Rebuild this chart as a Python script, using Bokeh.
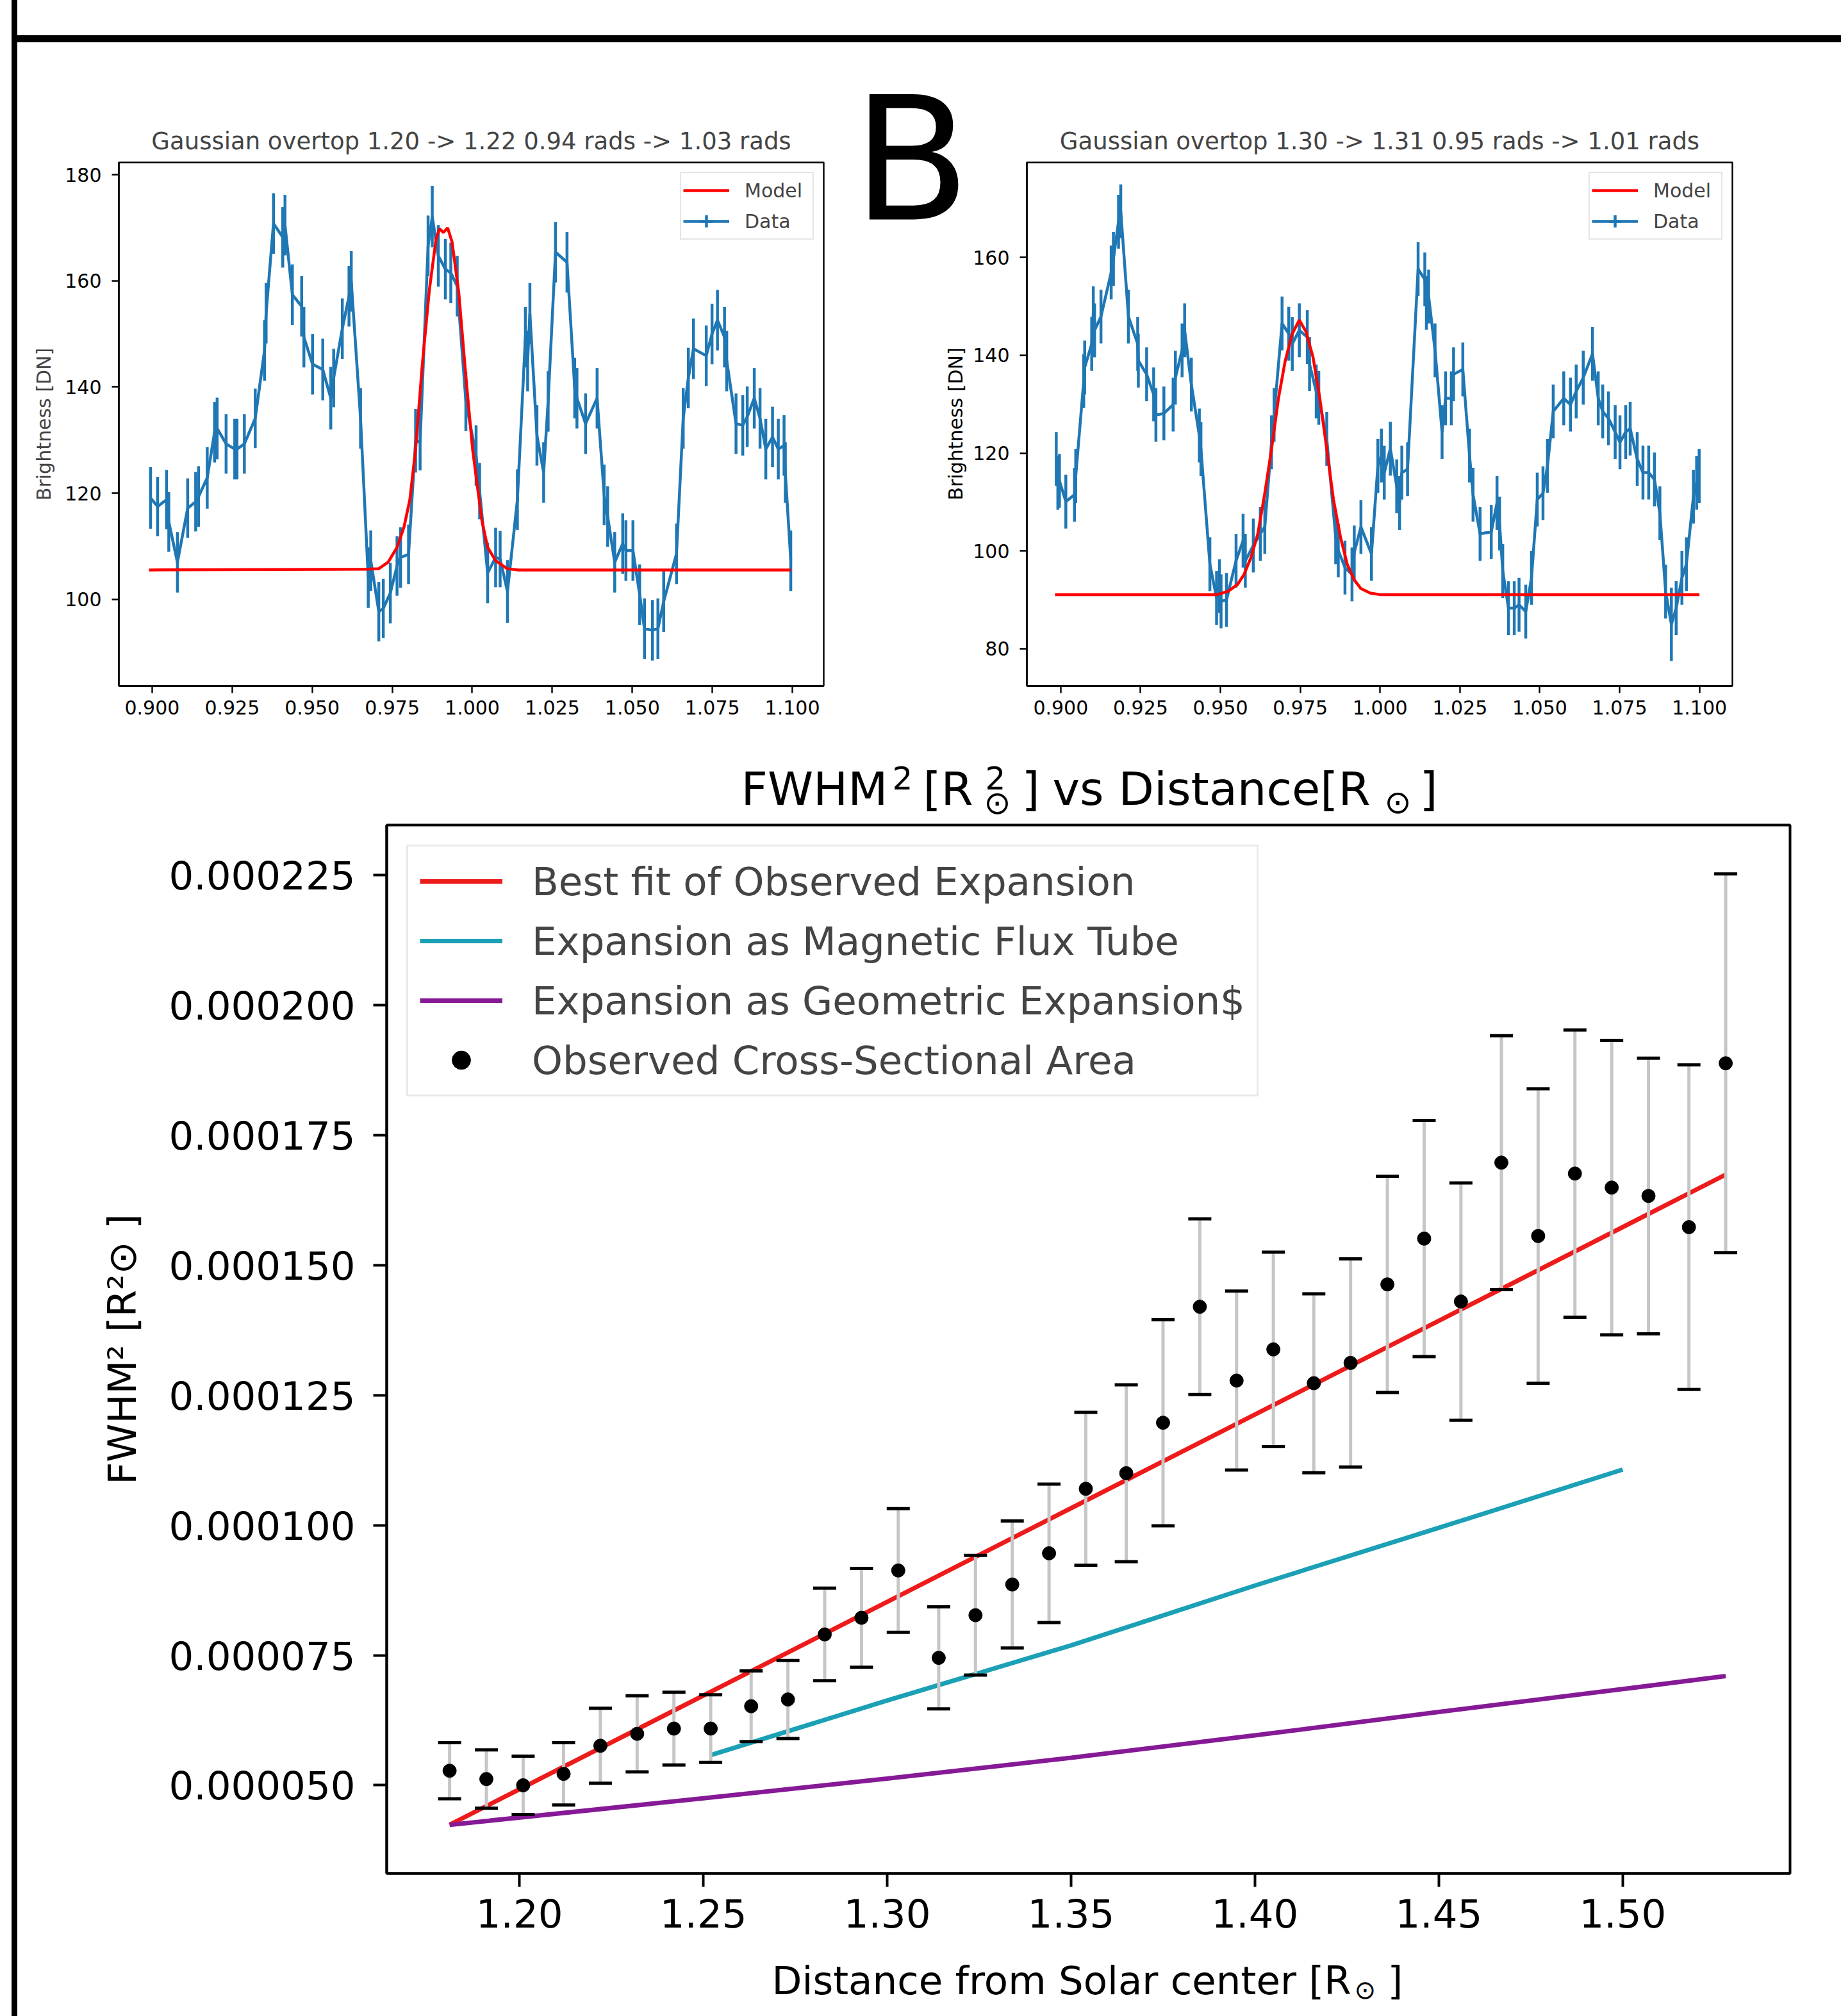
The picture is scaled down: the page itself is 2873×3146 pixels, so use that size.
import math
from bokeh.plotting import figure
from bokeh.models import (Range1d, FixedTicker, NumeralTickFormatter, Legend, LegendItem, Spacer)
from bokeh.layouts import row, column
from bokeh.embed import file_html
from bokeh.resources import INLINE
from bokeh.core.properties import value

FONT = "DejaVu Sans"
NAN = float("nan")

# ---------------------------------------------------------------- data
left_title = "Gaussian overtop 1.20 -> 1.22 0.94 rads -> 1.03 rads"
right_title = "Gaussian overtop 1.30 -> 1.31 0.95 rads -> 1.01 rads"
top_x_ticks = [0.900, 0.925, 0.950, 0.975, 1.000, 1.025, 1.050, 1.075, 1.100]
left_y_ticks = [100, 120, 140, 160, 180]
right_y_ticks = [80, 100, 120, 140, 160]

left_x = [0.8995, 0.9017, 0.9045, 0.9052, 0.9079, 0.9111, 0.9136, 0.9145, 0.9172, 0.9195,
          0.9203, 0.9231, 0.9258, 0.9265, 0.9288, 0.9322, 0.9351, 0.9356, 0.9379, 0.9408,
          0.9415, 0.9438, 0.9467, 0.9474, 0.9501, 0.9533, 0.9558, 0.9567, 0.9594, 0.9615,
          0.9622, 0.9651, 0.9675, 0.9683, 0.9708, 0.9722, 0.9744, 0.9765, 0.9776, 0.9801,
          0.9823, 0.9837, 0.9862, 0.9875, 0.9894, 0.9916, 0.9933, 0.9953, 0.9980, 1.0012,
          1.0023, 1.0048, 1.0073, 1.0087, 1.0110, 1.0141, 1.0166, 1.0173, 1.0180, 1.0202,
          1.0223, 1.0237, 1.0260, 1.0296, 1.0320, 1.0327, 1.0354, 1.0390, 1.0412, 1.0423,
          1.0445, 1.0470, 1.0480, 1.0502, 1.0523, 1.0538, 1.0563, 1.0580, 1.0598, 1.0638,
          1.0659, 1.0675, 1.0691, 1.0731, 1.0749, 1.0766, 1.0788, 1.0795, 1.0824, 1.0845,
          1.0859, 1.0881, 1.0899, 1.0917, 1.0938, 1.0956, 1.0974, 1.0978, 1.0995]
left_y = [119.1, 117.5, 118.8, 114.6, 107.0, 117.2, 118.4, 119.4, 122.9, 131.5,
          132.2, 129.3, 128.3, 128.3, 129.3, 134.1, 146.9, 153.9, 170.8, 168.2,
          170.5, 157.4, 155.2, 149.4, 144.3, 143.3, 137.9, 141.7, 151.0, 157.1,
          159.9, 134.1, 104.1, 107.3, 97.7, 98.3, 101.2, 106.3, 107.9, 108.5,
          129.9, 129.6, 166.6, 172.1, 164.7, 162.2, 161.5, 159.0, 137.3, 127.1,
          120.4, 105.0, 107.9, 107.6, 101.5, 118.8, 149.4, 144.9, 153.9, 130.9,
          123.9, 137.3, 165.4, 163.5, 139.8, 137.9, 133.1, 137.9, 119.7, 115.6,
          107.0, 110.5, 109.2, 109.2, 100.9, 94.5, 94.2, 94.5, 99.6, 108.6,
          134.1, 141.7, 147.2, 145.9, 150.0, 152.6, 149.4, 144.9, 133.1, 132.8,
          134.4, 137.9, 134.1, 128.3, 130.6, 128.3, 129.0, 123.9, 107.3]
left_err = [5.8, 5.6, 5.6, 5.6, 5.7, 5.6, 5.6, 5.7, 5.8, 5.7,
            5.8, 5.6, 5.7, 5.7, 5.6, 5.6, 5.7, 5.7, 5.7, 5.7,
            5.7, 5.7, 5.7, 5.7, 5.7, 5.8, 5.9, 5.5, 5.7, 5.7,
            5.7, 5.7, 5.7, 5.7, 5.6, 5.6, 5.7, 5.6, 5.7, 5.6,
            6.0, 5.3, 5.7, 5.8, 5.8, 5.7, 5.7, 5.7, 5.6, 5.7,
            5.3, 5.7, 5.6, 5.3, 5.9, 5.7, 5.7, 5.7, 5.7, 5.7,
            5.7, 5.7, 5.7, 5.7, 5.7, 5.7, 5.7, 5.7, 5.7, 5.7,
            5.7, 5.7, 5.7, 5.7, 5.7, 5.7, 5.7, 5.7, 5.7, 5.7,
            5.7, 5.7, 5.7, 5.7, 5.7, 5.7, 5.7, 5.7, 5.7, 5.7,
            5.7, 5.7, 5.7, 5.7, 5.7, 5.7, 5.7, 5.7, 5.7]
left_model_x = [0.8990, 0.9672, 0.9708, 0.9737, 0.9765, 0.9787, 0.9805, 0.9823, 0.9844,
                0.9866, 0.9887, 0.9898, 0.9910, 0.9923, 0.9937, 0.9958, 0.9980, 1.0001,
                1.0016, 1.0030, 1.0048, 1.0073, 1.0109, 1.0144, 1.0995]
left_model_y = [105.55, 105.7, 105.8, 107.0, 109.8, 113.7, 118.8, 128.3, 144.3,
                158.3, 167.9, 169.8, 169.1, 170.0, 167.3, 157.7, 142.0, 128.3,
                121.3, 114.9, 109.8, 107.3, 105.8, 105.55, 105.55]

right_x = [0.8986, 0.8991, 0.8996, 0.9016, 0.9043, 0.9047, 0.9072, 0.9075, 0.9097, 0.9102,
           0.9106, 0.9126, 0.9158, 0.9165, 0.9181, 0.9188, 0.9212, 0.9241, 0.9243, 0.9269,
           0.9291, 0.9298, 0.9323, 0.9352, 0.9359, 0.9380, 0.9388, 0.9409, 0.9434, 0.9439,
           0.9467, 0.9488, 0.9497, 0.9502, 0.9519, 0.9549, 0.9571, 0.9578, 0.9603, 0.9625,
           0.9639, 0.9660, 0.9668, 0.9693, 0.9714, 0.9725, 0.9747, 0.9772, 0.9779, 0.9800,
           0.9808, 0.9833, 0.9861, 0.9869, 0.9890, 0.9912, 0.9919, 0.9940, 0.9973, 0.9993,
           1.0004, 1.0013, 1.0032, 1.0052, 1.0061, 1.0068, 1.0086, 1.0119, 1.0140, 1.0145,
           1.0152, 1.0172, 1.0194, 1.0205, 1.0223, 1.0230, 1.0259, 1.0280, 1.0291, 1.0313,
           1.0348, 1.0366, 1.0374, 1.0384, 1.0402, 1.0420, 1.0435, 1.0456, 1.0474, 1.0492,
           1.0510, 1.0524, 1.0542, 1.0575, 1.0596, 1.0614, 1.0636, 1.0665, 1.0683, 1.0697,
           1.0715, 1.0736, 1.0751, 1.0769, 1.0783, 1.0805, 1.0823, 1.0841, 1.0859, 1.0876,
           1.0894, 1.0912, 1.0927, 1.0945, 1.0959, 1.0981, 1.0991, 1.0999]
right_y = [118.8, 113.9, 114.3, 110.1, 111.5, 115.3, 134.7, 137.5, 142.3, 148.6,
           145.1, 147.9, 156.9, 159.7, 167.3, 169.4, 147.9, 142.3, 138.9, 136.1,
           132.0, 127.8, 128.1, 129.9, 135.4, 141.0, 145.1, 134.0, 123.6, 120.8,
           97.3, 90.4, 92.8, 89.7, 90.0, 98.0, 102.1, 98.0, 101.1, 103.5,
           104.9, 122.2, 127.8, 146.5, 144.4, 142.3, 145.1, 143.7, 138.2, 132.6,
           131.3, 122.9, 102.8, 100.1, 96.6, 95.2, 99.7, 104.9, 99.4, 117.4,
           119.5, 116.0, 120.9, 113.2, 109.8, 116.0, 116.7, 157.6, 155.5, 150.7,
           152.0, 141.0, 124.3, 131.2, 131.2, 136.1, 137.1, 119.5, 111.5, 103.5,
           103.9, 109.8, 105.6, 95.9, 88.3, 88.3, 89.0, 87.6, 94.5, 110.5,
           111.8, 117.4, 128.5, 131.2, 129.9, 132.6, 135.4, 140.3, 131.2, 128.5,
           127.1, 124.3, 122.2, 124.3, 125.0, 118.8, 116.0, 116.0, 114.6, 107.7,
           91.7, 85.0, 88.3, 94.5, 97.3, 111.1, 113.9, 115.3]
right_err = [5.5] * 111 + [7.5] + [5.5] * 6
right_model_x = [0.8982, 0.9488, 0.9524, 0.9553, 0.9574, 0.9596, 0.9617, 0.9639, 0.9660,
                 0.9682, 0.9703, 0.9725, 0.9747, 0.9768, 0.9790, 0.9811, 0.9833, 0.9854,
                 0.9876, 0.9897, 0.9919, 0.9940, 0.9969, 1.0003, 1.1000]
right_model_y = [91.05, 91.05, 91.75, 93.1, 95.2, 98.7, 103.5, 111.8, 120.8,
                 131.3, 138.9, 144.4, 147.2, 144.8, 139.6, 131.3, 120.8, 110.5,
                 102.8, 97.3, 94.1, 92.3, 91.4, 91.05, 91.05]

# bottom panel
dist = [1.181, 1.191, 1.201, 1.212, 1.222, 1.232, 1.242, 1.252, 1.263, 1.273,
        1.283, 1.293, 1.303, 1.314, 1.324, 1.334, 1.344, 1.354, 1.365, 1.375,
        1.385, 1.395, 1.405, 1.416, 1.426, 1.436, 1.446, 1.456, 1.467, 1.477,
        1.487, 1.497, 1.507, 1.518, 1.528]
fwhm2 = [5.28e-5, 5.12e-5, 5.00e-5, 5.22e-5, 5.76e-5, 5.99e-5, 6.09e-5, 6.09e-5, 6.52e-5, 6.65e-5,
         7.90e-5, 8.22e-5, 9.13e-5, 7.45e-5, 8.27e-5, 8.86e-5, 9.46e-5, 10.70e-5, 11.00e-5, 11.97e-5,
         14.20e-5, 12.78e-5, 13.38e-5, 12.73e-5, 13.12e-5, 14.63e-5, 15.51e-5, 14.30e-5, 16.97e-5, 15.56e-5,
         16.76e-5, 16.49e-5, 16.33e-5, 15.73e-5, 18.88e-5]
fwhm2_err = [0.54e-5, 0.56e-5, 0.56e-5, 0.60e-5, 0.72e-5, 0.73e-5, 0.70e-5, 0.65e-5, 0.68e-5, 0.75e-5,
             0.89e-5, 0.95e-5, 1.19e-5, 0.98e-5, 1.15e-5, 1.22e-5, 1.33e-5, 1.47e-5, 1.70e-5, 1.98e-5,
             1.69e-5, 1.72e-5, 1.87e-5, 1.72e-5, 2.00e-5, 2.08e-5, 2.27e-5, 2.28e-5, 2.44e-5, 2.83e-5,
             2.76e-5, 2.83e-5, 2.65e-5, 3.12e-5, 3.64e-5]
fit_x = [1.181, 1.528]
fit_y = [4.24e-5, 16.74e-5]
flux_x = [1.252, 1.30, 1.35, 1.40, 1.45, 1.50]
flux_y = [5.58e-5, 6.63e-5, 7.69e-5, 8.84e-5, 9.95e-5, 11.07e-5]
geom_x = [1.181, 1.25, 1.30, 1.35, 1.40, 1.45, 1.50, 1.528]
geom_y = [4.24e-5, 4.75e-5, 5.13e-5, 5.53e-5, 5.96e-5, 6.41e-5, 6.85e-5, 7.10e-5]
bottom_x_ticks = [1.20, 1.25, 1.30, 1.35, 1.40, 1.45, 1.50]
bottom_y_ticks = [5.0e-5, 7.5e-5, 1.0e-4, 1.25e-4, 1.5e-4, 1.75e-4, 2.0e-4, 2.25e-4]
legend_labels = ["Best fit of Observed Expansion", "Expansion as Magnetic Flux Tube",
                 "Expansion as Geometric Expansion$", "Observed Cross-Sectional Area"]
bottom_ylabel = "FWHM\u00b2 [R\u00b2\u2299 ]"

BLUE = "#1f77b4"
RED = "#ff0000"
K_BASE = 0.34   # measured drop of an 'alphabetic' text anchor, in em


def base_fig(fw, fh, bl, br, bt, bb, xr, yr, lw):
    p = figure(frame_width=fw, frame_height=fh, x_range=Range1d(*xr), y_range=Range1d(*yr),
               min_border_left=bl, min_border_right=br, min_border_top=bt, min_border_bottom=bb,
               output_backend="svg", toolbar_location=None)
    p.xgrid.visible = False
    p.ygrid.visible = False
    p.outline_line_color = "black"
    p.outline_line_width = lw
    p.outline_line_alpha = 1.0
    p.background_fill_color = "white"
    p.border_fill_color = "white"
    return p


def style_axes(p, lw, tick, fsize, standoff_x, standoff_y):
    for ax in p.axis:
        ax.axis_line_color = "black"
        ax.axis_line_width = lw
        ax.major_tick_line_color = "black"
        ax.major_tick_line_width = lw
        ax.major_tick_out = tick
        ax.major_tick_in = 0
        ax.minor_tick_line_color = None
        ax.major_label_text_font = FONT
        ax.major_label_text_font_size = fsize
        ax.major_label_text_color = "black"
    p.xaxis.major_label_standoff = standoff_x
    p.yaxis.major_label_standoff = standoff_y


def strip(x0, x1, y0, y1, bl=0, br=0):
    """A text-only canvas whose data units are page pixels (y grows downward).
    x0..x1 is the drawable (frame) span; bl/br are blank borders around it."""
    f = figure(width=(x1 - x0) + bl + br, height=y1 - y0,
               x_range=Range1d(x0, x1), y_range=Range1d(y1, y0),
               x_axis_location=None, y_axis_location=None,
               min_border_left=bl, min_border_right=br, min_border_top=0, min_border_bottom=0,
               output_backend="svg", toolbar_location=None)
    f.xgrid.visible = False
    f.ygrid.visible = False
    f.outline_line_color = None
    f.background_fill_color = "white"
    f.border_fill_color = "white"
    return f


def txt(f, X, Y, s, size, angle=0.0, align="left", baseline="alphabetic", comp=True):
    # Y is the wanted baseline; compensate the measured drop of the text anchor
    y = Y - K_BASE * size if comp else Y
    f.text(x=[X], y=[y], text=[s], text_font=value(FONT), text_font_size=value(f"{size}px"),
           text_align=align, text_baseline=baseline, angle=angle, text_color="black")


def top_panel(xs, ys, es, mx, my, title, yticks, xr, yr, bl, br, fw, ylabel):
    p = base_fig(fw, 817, bl, br, 187, 80, xr, yr, 2.4)
    style_axes(p, 2.4, 11, "30px", 11, 16)
    p.xaxis.ticker = FixedTicker(ticks=top_x_ticks)
    p.xaxis.formatter = NumeralTickFormatter(format="0.000")
    p.yaxis.ticker = FixedTicker(ticks=yticks)
    p.yaxis.formatter = NumeralTickFormatter(format="0")
    if ylabel:
        p.yaxis.axis_label = "Brightness [DN]"
        p.yaxis.axis_label_text_font = FONT
        p.yaxis.axis_label_text_font_size = "30px"
        p.yaxis.axis_label_text_font_style = "normal"
        p.yaxis.axis_label_standoff = 12
    p.title.text = title
    p.title.align = "center"
    p.title.text_font = FONT
    p.title.text_font_size = "37px"
    p.title.text_font_style = "normal"
    p.title.standoff = 24
    lo = [y - e for y, e in zip(ys, es)]
    hi = [y + e for y, e in zip(ys, es)]
    p.segment(x0=xs, y0=lo, x1=xs, y1=hi, line_color=BLUE, line_width=4.5)
    r_data = p.line(xs, ys, line_color=BLUE, line_width=4.5)
    r_model = p.line(mx, my, line_color=RED, line_width=4.5)
    r_bar = p.scatter(x=[NAN], y=[NAN], marker="cross", size=10, line_color=BLUE, line_width=4.5)
    leg = Legend(items=[LegendItem(label="Model", renderers=[r_model]),
                        LegendItem(label="Data", renderers=[r_data, r_bar])],
                 location="top_right", margin=15, padding=3, spacing=0,
                 glyph_width=72, glyph_height=48, label_height=48, label_width=103,
                 label_standoff=24, label_text_font=FONT, label_text_font_size="30px",
                 border_line_color="#cccccc", border_line_width=2,
                 background_fill_alpha=0.85)
    p.add_layout(leg)
    return p


# page x: 27..1325 p1 | 1325..1515 middle strip | 1515..2873 p2 ; page y 66..1150
p1 = top_panel(left_x, left_y, left_err, left_model_x, left_model_y, left_title,
               left_y_ticks, (0.8896, 1.1098), (83.7, 182.3), 158, 40, 1100, True)
p2 = top_panel(right_x, right_y, right_err, right_model_x, right_model_y, right_title,
               right_y_ticks, (0.8894, 1.1103), (72.4, 179.4), 86, 171, 1101, False)
mid = strip(1325, 1515, 66, 1150)
txt(mid, 1330, 340, "B", 268)
txt(mid, 1491, 661, "Brightness [DN]", 30, angle=math.pi / 2, align="center",
    baseline="middle", comp=False)

# ---------------------------------------------------------------- bottom panel
# page y: 1284..3050, frame x 603..2793, frame y 1287..2923
p3 = base_fig(2190, 1636, 576, 80, 3, 127, (1.1639, 1.5455), (3.306e-5, 2.346e-4), 4)
style_axes(p3, 4, 21, "61px", 18, 28)
p3.xaxis.ticker = FixedTicker(ticks=bottom_x_ticks)
p3.xaxis.formatter = NumeralTickFormatter(format="0.00")
p3.yaxis.ticker = FixedTicker(ticks=bottom_y_ticks)
p3.yaxis.formatter = NumeralTickFormatter(format="0.000000")
p3.yaxis.axis_label = bottom_ylabel
p3.yaxis.axis_label_text_font = FONT
p3.yaxis.axis_label_text_font_size = "61px"
p3.yaxis.axis_label_text_font_style = "normal"
p3.yaxis.axis_label_text_color = "black"
p3.yaxis.axis_label_standoff = 34

r_fit = p3.line(fit_x, fit_y, line_color="#ee1b1b", line_width=7)
r_flux = p3.line(flux_x, flux_y, line_color="#1ba0b5", line_width=7)
r_geom = p3.line(geom_x, geom_y, line_color="#861a96", line_width=7)
lo3 = [y - e for y, e in zip(fwhm2, fwhm2_err)]
hi3 = [y + e for y, e in zip(fwhm2, fwhm2_err)]
p3.segment(x0=dist, y0=lo3, x1=dist, y1=hi3, line_color="#c6c6c6", line_width=5)
p3.scatter(dist, lo3, marker="dash", size=36, line_color="black", line_width=5)
p3.scatter(dist, hi3, marker="dash", size=36, line_color="black", line_width=5)
r_pts = p3.scatter(dist, fwhm2, marker="circle", size=21, fill_color="black", line_color="black")
leg3 = Legend(items=[LegendItem(label=legend_labels[0], renderers=[r_fit]),
                     LegendItem(label=legend_labels[1], renderers=[r_flux]),
                     LegendItem(label=legend_labels[2], renderers=[r_geom]),
                     LegendItem(label=legend_labels[3], renderers=[r_pts])],
              location="top_left", margin=31, padding=18, spacing=21,
              glyph_width=129, glyph_height=72, label_height=72, label_standoff=46,
              label_text_font=FONT, label_text_font_size="61px",
              border_line_color="#d4d4d4", border_line_width=3, background_fill_alpha=0.85)
p3.add_layout(leg3)

# title strip (page y 1150..1284): FWHM^2 [R_sun^2] vs Distance[R_sun]
tstrip = strip(603, 2793, 1150, 1284, bl=576, br=80)
txt(tstrip, 1156, 1255, "FWHM", 72)
txt(tstrip, 1392, 1230, "2", 50)
txt(tstrip, 1440, 1255, "[R", 72)
txt(tstrip, 1537, 1230, "2", 50)
txt(tstrip, 1535, 1269, "\u2299", 50)
txt(tstrip, 1594, 1255, "]", 72)
txt(tstrip, 1642, 1255, "vs Distance[R", 72)
txt(tstrip, 2160, 1268, "\u2299", 50)
txt(tstrip, 2215, 1255, "]", 72)

# x-label strip (page y 3050..3146)
xstrip = strip(603, 2793, 3050, 3146, bl=576, br=80)
txt(xstrip, 1204, 3111, "Distance from Solar center [R", 61)
txt(xstrip, 2113, 3118, "\u2299", 40)
txt(xstrip, 2165, 3111, "]", 61)

# ---------------------------------------------------------------- page layout
black = {"background-color": "black"}
left_gap = Spacer(width=18, height=3146)
left_line = Spacer(width=9, height=3146, styles=black)
top_gap = Spacer(width=2846, height=55)
top_line = Spacer(width=2846, height=11, styles=black)
row1 = row(p1, column(mid), p2)
content = column(top_gap, top_line, row1, column(tstrip), p3, column(xstrip))
page = row(left_gap, left_line, content)

open("out.html", "w").write(file_html(page, INLINE, title="FWHM expansion"))
